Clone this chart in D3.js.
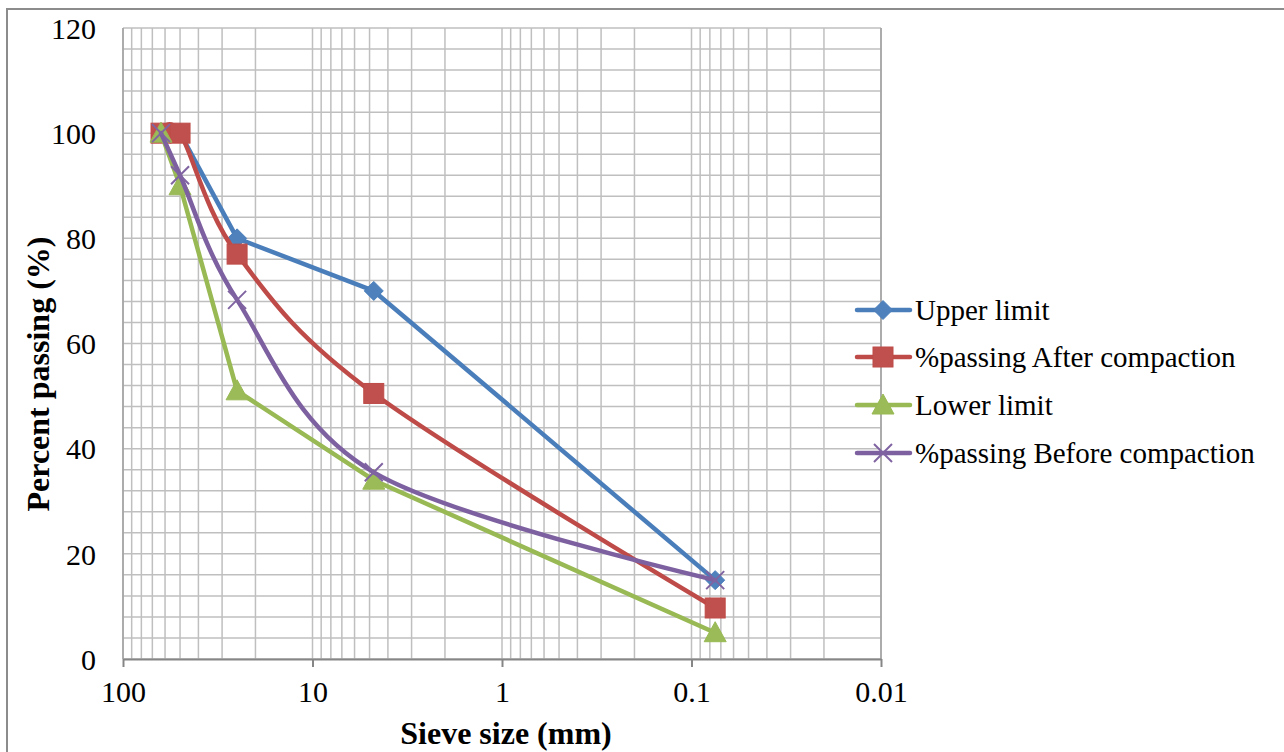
<!DOCTYPE html>
<html>
<head>
<meta charset="utf-8">
<script src="https://cdn.jsdelivr.net/npm/d3@7"></script>
<style>
  html, body { margin: 0; padding: 0; background: #fff; }
  svg { display: block; font-family: "Liberation Serif", "Times New Roman", serif; }
</style>
</head>
<body>
<svg id="chart" width="1284" height="752"></svg>
<script>
// ---- data ----
const sieveSizes = [63, 50, 25, 4.75, 0.075];
const upperLimit = [100, 100, 80, 70, 15];
const afterCompaction = [100, 100, 77, 50.5, 9.7];
const lowerLimit = [100, 90, 51, 34, 5];
const beforeCompaction = [100, 92, 68.3, 35.5, 15];
const seriesNames = ["Upper limit", "%passing After compaction", "Lower limit", "%passing Before compaction"];
const xTickValues = [100, 10, 1, 0.1, 0.01];
const xTickLabels = ["100", "10", "1", "0.1", "0.01"];
const yTickValues = [0, 20, 40, 60, 80, 100, 120];

// ---- layout ----
const svg = d3.select("#chart");
const plotLeft = 123, plotRight = 881, plotTop = 28, plotBottom = 659;
const serif = "Liberation Serif, Times New Roman, serif";

const x = d3.scaleLog().domain([100, 0.01]).range([plotLeft, plotRight]);
const y = d3.scaleLinear().domain([0, 120]).range([plotBottom, plotTop]);

// outer chart border
svg.append("rect").attr("x", 7).attr("y", 9).attr("width", 1300).attr("height", 800)
  .attr("fill", "none").attr("stroke", "#8c8c8c").attr("stroke-width", 2);

// gridlines
const grid = svg.append("g");
const minorX = [];
for (let e = -2; e < 2; e++) {
  for (let m = 1; m <= 9; m++) minorX.push(m * Math.pow(10, e));
}
minorX.push(100);
grid.selectAll("line.vx").data(minorX).enter().append("line")
  .attr("x1", d => x(d)).attr("x2", d => x(d)).attr("y1", plotTop).attr("y2", plotBottom)
  .attr("stroke", "#bfbfbf").attr("stroke-width", 1.5);
grid.selectAll("line.hy").data(d3.range(0, 121, 4)).enter().append("line")
  .attr("x1", plotLeft).attr("x2", plotRight).attr("y1", d => y(d)).attr("y2", d => y(d))
  .attr("stroke", "#bfbfbf").attr("stroke-width", 1.5);

// axes lines
svg.append("line").attr("x1", plotLeft).attr("x2", plotLeft).attr("y1", plotTop).attr("y2", plotBottom)
  .attr("stroke", "#a0a0a0").attr("stroke-width", 1.5);
svg.append("line").attr("x1", plotRight).attr("x2", plotRight).attr("y1", plotTop).attr("y2", plotBottom)
  .attr("stroke", "#a0a0a0").attr("stroke-width", 1.5);
const xAxis = d3.axisBottom(x).tickValues(xTickValues)
  .tickFormat((d, i) => xTickLabels[i]).tickSize(8).tickSizeOuter(0);
const gx = svg.append("g").attr("transform", `translate(0,${plotBottom})`).call(xAxis);
gx.attr("font-family", serif);
gx.select(".domain").attr("stroke", "#868686").attr("stroke-width", 2);
gx.selectAll(".tick line").attr("stroke", "#868686").attr("stroke-width", 2);
gx.selectAll(".tick text").attr("font-size", 30).attr("fill", "#000")
  .attr("font-family", serif).attr("dy", "1.05em");

const yAxis = d3.axisLeft(y).tickValues(yTickValues).tickSize(0).tickPadding(27);
const gy = svg.append("g").attr("transform", `translate(${plotLeft},0)`).call(yAxis);
gy.attr("font-family", serif);
gy.select(".domain").remove();
gy.selectAll(".tick text").attr("font-size", 30).attr("fill", "#000")
  .attr("font-family", serif).attr("dy", "0.34em");

// axis titles
svg.append("text").attr("x", 506).attr("y", 744).attr("text-anchor", "middle")
  .attr("font-size", 32).attr("font-weight", "bold").text("Sieve size (mm)");
svg.append("text").attr("transform", "translate(49,374) rotate(-90)").attr("text-anchor", "middle")
  .attr("font-size", 32).attr("font-weight", "bold").text("Percent passing (%)");

// series
const series = [
  { name: seriesNames[0], values: upperLimit, line: "#4a7ebb", fill: "#4f81bd", marker: "diamond", curve: d3.curveLinear },
  { name: seriesNames[1], values: afterCompaction, line: "#be4b48", fill: "#c0504d", marker: "square", curve: d3.curveCardinal.tension(0) },
  { name: seriesNames[2], values: lowerLimit, line: "#98b954", fill: "#9bbb59", marker: "triangle", curve: d3.curveLinear },
  { name: seriesNames[3], values: beforeCompaction, line: "#7d60a0", fill: "#8064a2", marker: "x", curve: d3.curveCardinal.tension(0) }
];

function drawMarker(g, type, cx, cy, s) {
  if (type === "diamond") {
    g.append("path").attr("d", `M${cx},${cy - 9.5}L${cx + 9.5},${cy}L${cx},${cy + 9.5}L${cx - 9.5},${cy}Z`)
      .attr("fill", s.fill).attr("stroke", s.line).attr("stroke-width", 1);
  } else if (type === "square") {
    g.append("rect").attr("x", cx - 10).attr("y", cy - 10).attr("width", 20).attr("height", 20)
      .attr("fill", s.fill).attr("stroke", s.line).attr("stroke-width", 1);
  } else if (type === "triangle") {
    g.append("path").attr("d", `M${cx},${cy - 11}L${cx + 11},${cy + 9}L${cx - 11},${cy + 9}Z`)
      .attr("fill", s.fill).attr("stroke", s.line).attr("stroke-width", 1);
  } else {
    g.append("path").attr("d", `M${cx - 9},${cy - 9}L${cx + 9},${cy + 9}M${cx + 9},${cy - 9}L${cx - 9},${cy + 9}`)
      .attr("fill", "none").attr("stroke", s.fill).attr("stroke-width", 2);
  }
}

series.forEach(s => {
  const pts = sieveSizes.map((d, i) => [x(d), y(s.values[i])]);
  const g = svg.append("g");
  g.append("path").attr("d", d3.line().curve(s.curve)(pts))
    .attr("fill", "none").attr("stroke", s.line).attr("stroke-width", 4.5)
    .attr("stroke-linejoin", "round").attr("stroke-linecap", "round");
  pts.forEach(p => drawMarker(g, s.marker, p[0], p[1], s));
});

// legend
const legendY = [310, 357, 405, 453];
series.forEach((s, i) => {
  const g = svg.append("g");
  const ly = legendY[i];
  g.append("line").attr("x1", 857).attr("x2", 910).attr("y1", ly).attr("y2", ly)
    .attr("stroke", s.line).attr("stroke-width", 4.5).attr("stroke-linecap", "round");
  drawMarker(g, s.marker, 883, ly, s);
  g.append("text").attr("x", 915).attr("y", ly).attr("dy", "0.34em")
    .attr("font-size", 29).attr("fill", "#000").attr("font-family", serif).text(s.name);
});
</script>
</body>
</html>
